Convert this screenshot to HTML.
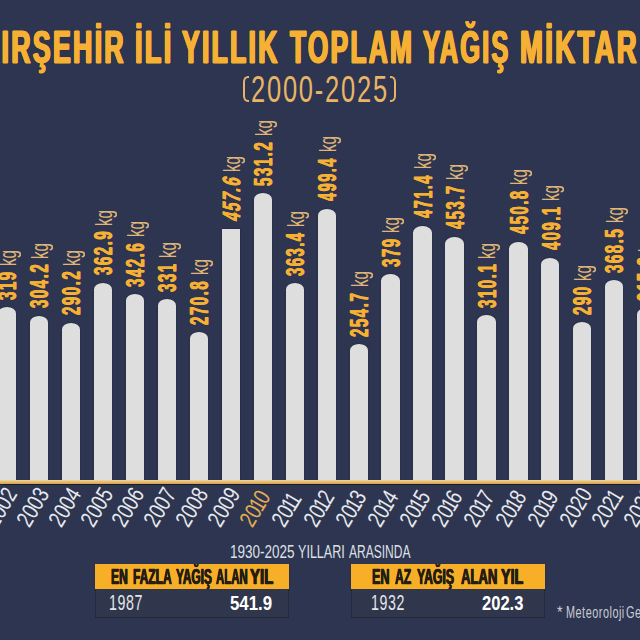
<!DOCTYPE html><html><head><meta charset="utf-8"><style>
html,body{margin:0;padding:0;}
body{width:640px;height:640px;overflow:hidden;background:#2d3551;position:relative;font-family:"Liberation Sans",sans-serif;}
.a{position:absolute;white-space:nowrap;transform-origin:0 0;}
.bar{position:absolute;background:#dedede;box-shadow:0 0 1.2px rgba(10,12,20,0.6);}
.lab{position:absolute;white-space:nowrap;transform-origin:0 0;color:#f6b134;line-height:25px;}
.num{font-weight:bold;font-size:25px;-webkit-text-stroke:0.35px #f6b134;text-shadow:0.5px 0 0 #f6b134,-0.5px 0 0 #f6b134;letter-spacing:2.6px;}
.kg{font-size:24px;color:#f0c27c;opacity:0.92;}
.yr{position:absolute;white-space:nowrap;font-size:21px;line-height:21px;}
</style></head><body>
<div class="a" style="font-weight:bold;font-size:47px;line-height:47px;letter-spacing:4px;-webkit-text-stroke:1px currentColor;text-shadow:1.3px 0 0 currentColor,-1.3px 0 0 currentColor,0.65px 0 0 currentColor,-0.65px 0 0 currentColor,0 0 1.6px rgba(15,12,10,0.7);color:#f6b134;left:-20.14px;top:23.00px;transform:scaleX(0.5687)">KIRŞEHİR</div><div class="a" style="font-weight:bold;font-size:47px;line-height:47px;letter-spacing:4px;-webkit-text-stroke:1px currentColor;text-shadow:1.3px 0 0 currentColor,-1.3px 0 0 currentColor,0.65px 0 0 currentColor,-0.65px 0 0 currentColor,0 0 1.6px rgba(15,12,10,0.7);color:#f6b134;left:134.85px;top:23.00px;transform:scaleX(0.5763)">İLİ</div><div class="a" style="font-weight:bold;font-size:47px;line-height:47px;letter-spacing:4px;-webkit-text-stroke:1px currentColor;text-shadow:1.3px 0 0 currentColor,-1.3px 0 0 currentColor,0.65px 0 0 currentColor,-0.65px 0 0 currentColor,0 0 1.6px rgba(15,12,10,0.7);color:#f6b134;left:182.00px;top:23.00px;transform:scaleX(0.5647)">YILLIK</div><div class="a" style="font-weight:bold;font-size:47px;line-height:47px;letter-spacing:4px;-webkit-text-stroke:1px currentColor;text-shadow:1.3px 0 0 currentColor,-1.3px 0 0 currentColor,0.65px 0 0 currentColor,-0.65px 0 0 currentColor,0 0 1.6px rgba(15,12,10,0.7);color:#f6b134;left:289.96px;top:23.00px;transform:scaleX(0.5604)">TOPLAM</div><div class="a" style="font-weight:bold;font-size:47px;line-height:47px;letter-spacing:4px;-webkit-text-stroke:1px currentColor;text-shadow:1.3px 0 0 currentColor,-1.3px 0 0 currentColor,0.65px 0 0 currentColor,-0.65px 0 0 currentColor,0 0 1.6px rgba(15,12,10,0.7);color:#f6b134;left:423.40px;top:23.00px;transform:scaleX(0.5399)">YAĞIŞ</div><div class="a" style="font-weight:bold;font-size:47px;line-height:47px;letter-spacing:4px;-webkit-text-stroke:1px currentColor;text-shadow:1.3px 0 0 currentColor,-1.3px 0 0 currentColor,0.65px 0 0 currentColor,-0.65px 0 0 currentColor,0 0 1.6px rgba(15,12,10,0.7);color:#f6b134;left:520.23px;top:23.00px;transform:scaleX(0.5848)">MİKTAR</div><div class="a" style="font-size:37.3px;line-height:37.3px;letter-spacing:2.6px;color:#e9b466;left:250.63px;top:70.60px;transform:scaleX(0.6832)">2000-2025</div><div class="a" style="left:242.7px;top:75.8px;width:6.5px;height:26.3px;box-sizing:border-box;border:2.2px solid #e9b466;border-right:none;border-radius:5px 0 0 5px/6px 0 0 6px;"></div><div class="a" style="left:389.7px;top:75.8px;width:6.5px;height:26.3px;box-sizing:border-box;border:2.2px solid #e9b466;border-left:none;border-radius:0 5px 5px 0/0 6px 6px 0;"></div><div class="bar" style="left:-1.95px;top:307.20px;width:18.30px;height:172.80px;border-radius:9.15px 9.15px 0 0/6.5px 6.5px 0 0;"></div><div class="bar" style="left:30.00px;top:315.50px;width:18.30px;height:164.50px;border-radius:9.15px 9.15px 0 0/6.5px 6.5px 0 0;"></div><div class="bar" style="left:61.95px;top:322.80px;width:18.30px;height:157.20px;border-radius:9.15px 9.15px 0 0/6.5px 6.5px 0 0;"></div><div class="bar" style="left:93.90px;top:282.50px;width:18.30px;height:197.50px;border-radius:9.15px 9.15px 0 0/6.5px 6.5px 0 0;"></div><div class="bar" style="left:125.85px;top:294.20px;width:18.30px;height:185.80px;border-radius:9.15px 9.15px 0 0/6.5px 6.5px 0 0;"></div><div class="bar" style="left:157.80px;top:299.40px;width:18.30px;height:180.60px;border-radius:9.15px 9.15px 0 0/6.5px 6.5px 0 0;"></div><div class="bar" style="left:189.75px;top:332.20px;width:18.30px;height:147.80px;border-radius:9.15px 9.15px 0 0/6.5px 6.5px 0 0;"></div><div class="bar" style="left:221.70px;top:229.00px;width:18.30px;height:251.00px;"></div><div class="bar" style="left:253.65px;top:192.90px;width:18.30px;height:287.10px;border-radius:9.15px 9.15px 0 0/6.5px 6.5px 0 0;"></div><div class="bar" style="left:285.60px;top:283.40px;width:18.30px;height:196.60px;border-radius:9.15px 9.15px 0 0/6.5px 6.5px 0 0;"></div><div class="bar" style="left:317.55px;top:208.75px;width:18.30px;height:271.25px;border-radius:9.15px 9.15px 0 0/6.5px 6.5px 0 0;"></div><div class="bar" style="left:349.50px;top:343.90px;width:18.30px;height:136.10px;border-radius:9.15px 9.15px 0 0/6.5px 6.5px 0 0;"></div><div class="bar" style="left:381.45px;top:274.20px;width:18.30px;height:205.80px;border-radius:9.15px 9.15px 0 0/6.5px 6.5px 0 0;"></div><div class="bar" style="left:413.40px;top:226.00px;width:18.30px;height:254.00px;border-radius:9.15px 9.15px 0 0/6.5px 6.5px 0 0;"></div><div class="bar" style="left:445.35px;top:236.50px;width:18.30px;height:243.50px;border-radius:9.15px 9.15px 0 0/6.5px 6.5px 0 0;"></div><div class="bar" style="left:477.30px;top:315.40px;width:18.30px;height:164.60px;border-radius:9.15px 9.15px 0 0/6.5px 6.5px 0 0;"></div><div class="bar" style="left:509.25px;top:242.20px;width:18.30px;height:237.80px;border-radius:9.15px 9.15px 0 0/6.5px 6.5px 0 0;"></div><div class="bar" style="left:541.20px;top:258.25px;width:18.30px;height:221.75px;border-radius:9.15px 9.15px 0 0/6.5px 6.5px 0 0;"></div><div class="bar" style="left:573.15px;top:322.20px;width:18.30px;height:157.80px;border-radius:9.15px 9.15px 0 0/6.5px 6.5px 0 0;"></div><div class="bar" style="left:605.10px;top:280.00px;width:18.30px;height:200.00px;border-radius:9.15px 9.15px 0 0/6.5px 6.5px 0 0;"></div><div class="bar" style="left:637.05px;top:308.40px;width:18.30px;height:171.60px;border-radius:9.15px 9.15px 0 0/6.5px 6.5px 0 0;"></div><div class="lab num" style="left:-4.65px;top:299.80px;transform:rotate(-90deg) scaleX(0.600)">319</div><div class="lab kg" style="left:-4.95px;top:265.83px;transform:rotate(-90deg) scaleX(0.635)">kg</div><div class="lab num" style="left:27.30px;top:308.10px;transform:rotate(-90deg) scaleX(0.599)">304.2</div><div class="lab kg" style="left:27.00px;top:258.63px;transform:rotate(-90deg) scaleX(0.635)">kg</div><div class="lab num" style="left:59.25px;top:315.40px;transform:rotate(-90deg) scaleX(0.599)">290.2</div><div class="lab kg" style="left:58.95px;top:265.94px;transform:rotate(-90deg) scaleX(0.635)">kg</div><div class="lab num" style="left:91.20px;top:275.10px;transform:rotate(-90deg) scaleX(0.599)">362.9</div><div class="lab kg" style="left:90.90px;top:225.63px;transform:rotate(-90deg) scaleX(0.635)">kg</div><div class="lab num" style="left:123.15px;top:286.80px;transform:rotate(-90deg) scaleX(0.599)">342.6</div><div class="lab kg" style="left:122.85px;top:237.33px;transform:rotate(-90deg) scaleX(0.635)">kg</div><div class="lab num" style="left:155.10px;top:292.00px;transform:rotate(-90deg) scaleX(0.600)">331</div><div class="lab kg" style="left:154.80px;top:258.03px;transform:rotate(-90deg) scaleX(0.635)">kg</div><div class="lab num" style="left:187.05px;top:324.80px;transform:rotate(-90deg) scaleX(0.599)">270.8</div><div class="lab kg" style="left:186.75px;top:275.33px;transform:rotate(-90deg) scaleX(0.635)">kg</div><div class="lab num" style="font-style:italic;left:219.00px;top:218.50px;transform:rotate(-90deg) skewX(-6deg) scaleX(0.590)">457.6</div><div class="lab kg" style="left:218.70px;top:172.13px;transform:rotate(-90deg) scaleX(0.635)">kg</div><div class="lab num" style="left:250.95px;top:185.50px;transform:rotate(-90deg) scaleX(0.599)">531.2</div><div class="lab kg" style="left:250.65px;top:136.03px;transform:rotate(-90deg) scaleX(0.635)">kg</div><div class="lab num" style="left:282.90px;top:275.99px;transform:rotate(-90deg) scaleX(0.590)">363.4</div><div class="lab kg" style="left:282.60px;top:226.53px;transform:rotate(-90deg) scaleX(0.635)">kg</div><div class="lab num" style="left:314.85px;top:200.75px;transform:rotate(-90deg) scaleX(0.582)">499.4</div><div class="lab kg" style="left:314.55px;top:151.88px;transform:rotate(-90deg) scaleX(0.635)">kg</div><div class="lab num" style="left:346.80px;top:336.50px;transform:rotate(-90deg) scaleX(0.599)">254.7</div><div class="lab kg" style="left:346.50px;top:287.03px;transform:rotate(-90deg) scaleX(0.635)">kg</div><div class="lab num" style="left:378.75px;top:266.80px;transform:rotate(-90deg) scaleX(0.600)">379</div><div class="lab kg" style="left:378.45px;top:232.83px;transform:rotate(-90deg) scaleX(0.635)">kg</div><div class="lab num" style="left:410.70px;top:218.00px;transform:rotate(-90deg) scaleX(0.582)">471.4</div><div class="lab kg" style="left:410.40px;top:169.13px;transform:rotate(-90deg) scaleX(0.635)">kg</div><div class="lab num" style="left:442.65px;top:228.50px;transform:rotate(-90deg) scaleX(0.590)">453.7</div><div class="lab kg" style="left:442.35px;top:179.63px;transform:rotate(-90deg) scaleX(0.635)">kg</div><div class="lab num" style="left:474.60px;top:308.00px;transform:rotate(-90deg) scaleX(0.599)">310.1</div><div class="lab kg" style="left:474.30px;top:258.53px;transform:rotate(-90deg) scaleX(0.635)">kg</div><div class="lab num" style="left:506.55px;top:234.20px;transform:rotate(-90deg) scaleX(0.590)">450.8</div><div class="lab kg" style="left:506.25px;top:185.33px;transform:rotate(-90deg) scaleX(0.635)">kg</div><div class="lab num" style="left:538.50px;top:250.25px;transform:rotate(-90deg) scaleX(0.590)">409.1</div><div class="lab kg" style="left:538.20px;top:201.38px;transform:rotate(-90deg) scaleX(0.635)">kg</div><div class="lab num" style="left:570.45px;top:314.80px;transform:rotate(-90deg) scaleX(0.600)">290</div><div class="lab kg" style="left:570.15px;top:280.83px;transform:rotate(-90deg) scaleX(0.635)">kg</div><div class="lab num" style="left:602.40px;top:272.60px;transform:rotate(-90deg) scaleX(0.599)">368.5</div><div class="lab kg" style="left:602.10px;top:223.13px;transform:rotate(-90deg) scaleX(0.635)">kg</div><div class="lab num" style="left:634.35px;top:301.00px;transform:rotate(-90deg) scaleX(0.599)">315.3</div><div class="lab kg" style="left:634.05px;top:251.53px;transform:rotate(-90deg) scaleX(0.635)">kg</div><div class="yr" style="font-size:23.5px;line-height:23.5px;left:-2.35px;top:509.11px;color:#e8e9ec;transform-origin:0 19.89px;transform:rotate(-59deg) scaleX(0.770)">2002</div><div class="yr" style="font-size:23.5px;line-height:23.5px;left:29.60px;top:509.11px;color:#e8e9ec;transform-origin:0 19.89px;transform:rotate(-59deg) scaleX(0.770)">2003</div><div class="yr" style="font-size:23.5px;line-height:23.5px;left:61.55px;top:509.11px;color:#e8e9ec;transform-origin:0 19.89px;transform:rotate(-59deg) scaleX(0.770)">2004</div><div class="yr" style="font-size:23.5px;line-height:23.5px;left:93.50px;top:509.11px;color:#e8e9ec;transform-origin:0 19.89px;transform:rotate(-59deg) scaleX(0.770)">2005</div><div class="yr" style="font-size:23.5px;line-height:23.5px;left:125.45px;top:509.11px;color:#e8e9ec;transform-origin:0 19.89px;transform:rotate(-59deg) scaleX(0.770)">2006</div><div class="yr" style="font-size:23.5px;line-height:23.5px;left:157.40px;top:509.11px;color:#e8e9ec;transform-origin:0 19.89px;transform:rotate(-59deg) scaleX(0.770)">2007</div><div class="yr" style="font-size:23.5px;line-height:23.5px;left:189.35px;top:509.11px;color:#e8e9ec;transform-origin:0 19.89px;transform:rotate(-59deg) scaleX(0.770)">2008</div><div class="yr" style="font-size:23.5px;line-height:23.5px;left:221.30px;top:509.11px;color:#e8e9ec;transform-origin:0 19.89px;transform:rotate(-59deg) scaleX(0.770)">2009</div><div class="yr" style="font-size:23.5px;line-height:23.5px;left:253.25px;top:509.11px;color:#e5ad50;transform-origin:0 19.89px;transform:rotate(-59deg) scaleX(0.770)">20<span style="margin-left:-2.3px;letter-spacing:-1.97px">1</span>0</div><div class="yr" style="font-size:23.5px;line-height:23.5px;left:285.20px;top:509.11px;color:#e8e9ec;transform-origin:0 19.89px;transform:rotate(-59deg) scaleX(0.770)">20<span style="margin-left:-2.3px;letter-spacing:-1.97px">1</span><span style="margin-left:-2.3px;letter-spacing:-1.97px">1</span></div><div class="yr" style="font-size:23.5px;line-height:23.5px;left:317.15px;top:509.11px;color:#e8e9ec;transform-origin:0 19.89px;transform:rotate(-59deg) scaleX(0.770)">20<span style="margin-left:-2.3px;letter-spacing:-1.97px">1</span>2</div><div class="yr" style="font-size:23.5px;line-height:23.5px;left:349.10px;top:509.11px;color:#e8e9ec;transform-origin:0 19.89px;transform:rotate(-59deg) scaleX(0.770)">20<span style="margin-left:-2.3px;letter-spacing:-1.97px">1</span>3</div><div class="yr" style="font-size:23.5px;line-height:23.5px;left:381.05px;top:509.11px;color:#e8e9ec;transform-origin:0 19.89px;transform:rotate(-59deg) scaleX(0.770)">20<span style="margin-left:-2.3px;letter-spacing:-1.97px">1</span>4</div><div class="yr" style="font-size:23.5px;line-height:23.5px;left:413.00px;top:509.11px;color:#e8e9ec;transform-origin:0 19.89px;transform:rotate(-59deg) scaleX(0.770)">20<span style="margin-left:-2.3px;letter-spacing:-1.97px">1</span>5</div><div class="yr" style="font-size:23.5px;line-height:23.5px;left:444.95px;top:509.11px;color:#e8e9ec;transform-origin:0 19.89px;transform:rotate(-59deg) scaleX(0.770)">20<span style="margin-left:-2.3px;letter-spacing:-1.97px">1</span>6</div><div class="yr" style="font-size:23.5px;line-height:23.5px;left:476.90px;top:509.11px;color:#e8e9ec;transform-origin:0 19.89px;transform:rotate(-59deg) scaleX(0.770)">20<span style="margin-left:-2.3px;letter-spacing:-1.97px">1</span>7</div><div class="yr" style="font-size:23.5px;line-height:23.5px;left:508.85px;top:509.11px;color:#e8e9ec;transform-origin:0 19.89px;transform:rotate(-59deg) scaleX(0.770)">20<span style="margin-left:-2.3px;letter-spacing:-1.97px">1</span>8</div><div class="yr" style="font-size:23.5px;line-height:23.5px;left:540.80px;top:509.11px;color:#e8e9ec;transform-origin:0 19.89px;transform:rotate(-59deg) scaleX(0.770)">20<span style="margin-left:-2.3px;letter-spacing:-1.97px">1</span>9</div><div class="yr" style="font-size:23.5px;line-height:23.5px;left:572.75px;top:509.11px;color:#e8e9ec;transform-origin:0 19.89px;transform:rotate(-59deg) scaleX(0.770)">2020</div><div class="yr" style="font-size:23.5px;line-height:23.5px;left:604.70px;top:509.11px;color:#e8e9ec;transform-origin:0 19.89px;transform:rotate(-59deg) scaleX(0.770)">202<span style="margin-left:-2.3px;letter-spacing:-1.97px">1</span></div><div class="yr" style="font-size:23.5px;line-height:23.5px;left:636.65px;top:509.11px;color:#e8e9ec;transform-origin:0 19.89px;transform:rotate(-59deg) scaleX(0.770)">2022</div><div class="a" style="left:0;top:480.2px;width:640px;height:3.6px;background:linear-gradient(#f0d8a2,#e2b466 60%,#d6a253);box-shadow:0 0.8px 1px rgba(15,12,8,0.6);"></div><div class="a" style="left:94.90px;top:564.0px;width:194.20px;height:24.5px;background:#f8af28;box-shadow:0 0.8px 1px rgba(20,14,5,0.7);"></div><div class="a" style="left:94.90px;top:588.5px;width:194.20px;height:29.8px;background:#30364b;border:1.8px solid #242a3b;border-top:none;box-sizing:border-box;"></div><div class="a" style="left:350.80px;top:564.0px;width:194.50px;height:24.5px;background:#f8af28;box-shadow:0 0.8px 1px rgba(20,14,5,0.7);"></div><div class="a" style="left:350.80px;top:588.5px;width:194.50px;height:29.8px;background:#30364b;border:1.8px solid #242a3b;border-top:none;box-sizing:border-box;"></div><div class="a" style="font-weight:bold;font-size:21.5px;line-height:22px;-webkit-text-stroke:0.3px currentColor;text-shadow:0.6px 0 0 currentColor,-0.6px 0 0 currentColor;color:#231d14;left:111.44px;top:566.00px;transform:scaleX(0.5607)">EN</div><div class="a" style="font-weight:bold;font-size:21.5px;line-height:22px;-webkit-text-stroke:0.3px currentColor;text-shadow:0.6px 0 0 currentColor,-0.6px 0 0 currentColor;color:#231d14;left:133.34px;top:566.00px;transform:scaleX(0.5588)">FAZLA</div><div class="a" style="font-weight:bold;font-size:21.5px;line-height:22px;-webkit-text-stroke:0.3px currentColor;text-shadow:0.6px 0 0 currentColor,-0.6px 0 0 currentColor;color:#231d14;left:175.60px;top:566.00px;transform:scaleX(0.5523)">YAĞIŞ</div><div class="a" style="font-weight:bold;font-size:21.5px;line-height:22px;-webkit-text-stroke:0.3px currentColor;text-shadow:0.6px 0 0 currentColor,-0.6px 0 0 currentColor;color:#231d14;left:215.60px;top:566.00px;transform:scaleX(0.5305)">ALAN</div><div class="a" style="font-weight:bold;font-size:21.5px;line-height:22px;-webkit-text-stroke:0.3px currentColor;text-shadow:0.6px 0 0 currentColor,-0.6px 0 0 currentColor;color:#231d14;left:249.70px;top:566.00px;transform:scaleX(0.6971)">YIL</div><div class="a" style="font-weight:bold;font-size:21.5px;line-height:22px;-webkit-text-stroke:0.3px currentColor;text-shadow:0.6px 0 0 currentColor,-0.6px 0 0 currentColor;color:#231d14;left:371.91px;top:566.00px;transform:scaleX(0.5857)">EN</div><div class="a" style="font-weight:bold;font-size:21.5px;line-height:22px;-webkit-text-stroke:0.3px currentColor;text-shadow:0.6px 0 0 currentColor,-0.6px 0 0 currentColor;color:#231d14;left:395.20px;top:566.00px;transform:scaleX(0.5655)">AZ</div><div class="a" style="font-weight:bold;font-size:21.5px;line-height:22px;-webkit-text-stroke:0.3px currentColor;text-shadow:0.6px 0 0 currentColor,-0.6px 0 0 currentColor;color:#231d14;left:417.00px;top:566.00px;transform:scaleX(0.5692)">YAĞIŞ</div><div class="a" style="font-weight:bold;font-size:21.5px;line-height:22px;-webkit-text-stroke:0.3px currentColor;text-shadow:0.6px 0 0 currentColor,-0.6px 0 0 currentColor;color:#231d14;left:460.90px;top:566.00px;transform:scaleX(0.6102)">ALAN</div><div class="a" style="font-weight:bold;font-size:21.5px;line-height:22px;-webkit-text-stroke:0.3px currentColor;text-shadow:0.6px 0 0 currentColor,-0.6px 0 0 currentColor;color:#231d14;left:500.80px;top:566.00px;transform:scaleX(0.6647)">YIL</div><div class="a" style="font-size:22.7px;line-height:22px;letter-spacing:1px;color:#e6e6ea;left:109.35px;top:591.00px;transform:scaleX(0.6255)">1987</div><div class="a" style="font-size:22.7px;line-height:22px;letter-spacing:1px;color:#e6e6ea;left:371.25px;top:591.00px;transform:scaleX(0.6255)">1932</div><div class="a" style="font-weight:bold;font-size:21px;line-height:21px;color:#fff;left:230.20px;top:591.80px;transform:scaleX(0.8020)">541.9</div><div class="a" style="font-weight:bold;font-size:21px;line-height:21px;color:#fff;left:481.91px;top:591.80px;transform:scaleX(0.7882)">202.3</div><div class="a" style="font-size:19px;line-height:19px;color:#dfe0e5;left:229.79px;top:541.90px;transform:scaleX(0.7107)">1930-2025</div><div class="a" style="font-size:19px;line-height:19px;color:#dfe0e5;left:297.74px;top:541.90px;transform:scaleX(0.6618)">YILLARI</div><div class="a" style="font-size:19px;line-height:19px;color:#dfe0e5;left:348.90px;top:541.90px;transform:scaleX(0.6330)">ARASINDA</div><div class="a" style="font-size:17px;line-height:17px;letter-spacing:0.8px;color:#c9ccd4;left:557.00px;top:603.50px;transform:scaleX(0.8333)">*</div><div class="a" style="font-size:17px;line-height:17px;letter-spacing:0.8px;color:#c9ccd4;left:566.26px;top:603.50px;transform:scaleX(0.6393)">Meteoroloji</div><div class="a" style="font-size:17px;line-height:17px;letter-spacing:0.8px;color:#c9ccd4;left:626.05px;top:603.50px;transform:scaleX(0.6489)">Genel</div></body></html>
